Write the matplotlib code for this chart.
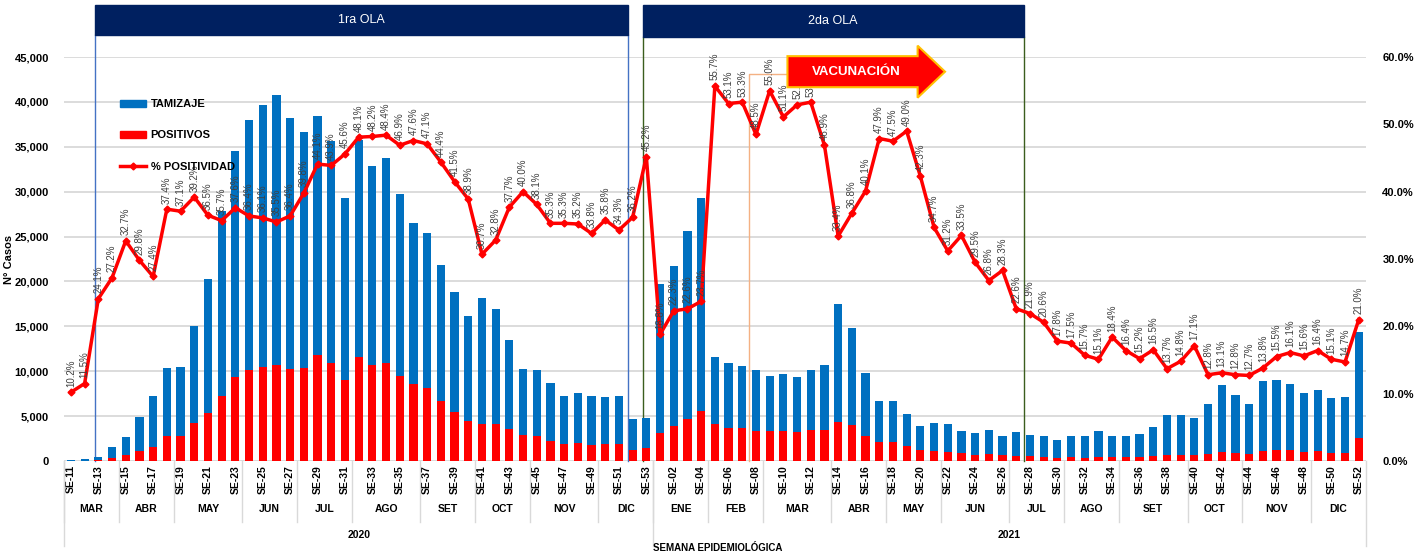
import numpy as np
import matplotlib
matplotlib.use("Agg")
import matplotlib.pyplot as plt
import matplotlib.transforms as mtransforms
from matplotlib.patches import Patch, Rectangle, FancyArrow
from matplotlib.lines import Line2D
from matplotlib.ticker import FuncFormatter

plt.rcParams['font.family'] = ['Liberation Sans', 'DejaVu Sans']

# categories
weeks_2020 = ['SE-%02d' % w for w in range(11, 54)]
weeks_2021 = ['SE-%02d' % w for w in range(1, 53)]
months_2020 = ['MAR', 'ABR', 'MAY', 'JUN', 'JUL', 'AGO', 'SET', 'OCT', 'NOV', 'DIC']
month_weeks_2020 = [4, 4, 5, 4, 4, 5, 4, 4, 5, 4]
months_2021 = ['ENE', 'FEB', 'MAR', 'ABR', 'MAY', 'JUN', 'JUL', 'AGO', 'SET', 'OCT', 'NOV', 'DIC']
month_weeks_2021 = [4, 4, 5, 4, 4, 5, 4, 4, 5, 4, 5, 4]
years = ['2020', '2021']

# series
positivos = [14, 23, 88, 340, 650, 1100, 1560, 2800, 2830, 4230,
             5390, 7250, 9370, 10120, 10490, 10670, 10190, 10410, 11750, 10860,
             9070, 11530, 10670, 10930, 9480, 8520, 8140, 6660, 5500, 4500,
             4170, 4090, 3610, 2900, 2780, 2230, 1860, 1980, 1820, 1860,
             1840, 1250, 1490,
             3120, 3900, 4690, 5580, 4090, 3720, 3650, 3300, 3330, 3280,
             3220, 3500, 3400, 4370, 3980, 2810, 2160, 2140, 1710, 1170,
             1100, 970, 830, 710, 720, 610, 590, 530, 480, 350,
             410, 370, 430, 440, 400, 400, 530, 620, 670, 700,
             720, 970, 830, 720, 1080, 1220, 1180, 1030, 1110, 920,
             920, 2500]
tamizaje = [136, 197, 362, 1220, 2030, 3810, 5690, 7500, 7660, 10790,
            14910, 20610, 25140, 27850, 29190, 30130, 28040, 26260, 26670, 24840,
            20200, 24250, 22240, 22870, 20270, 18030, 17220, 15130, 13280, 11640,
            13940, 12870, 9890, 7290, 7300, 6400, 5350, 5640, 5390, 5210,
            5370, 3440, 3310,
            16550, 17860, 20970, 23720, 7440, 7140, 6910, 6780, 6080, 6430,
            6080, 6580, 7270, 13070, 10820, 7010, 4500, 4520, 3480, 2750,
            3180, 3120, 2480, 2410, 2700, 2140, 2610, 2410, 2350, 1960,
            2340, 2380, 2880, 2390, 2430, 2610, 3230, 4550, 4500, 4100,
            5640, 7440, 6500, 5640, 7850, 7850, 7340, 6590, 6740, 6110,
            6220, 11890]
positividad = [10.2, 11.5, 24.1, 27.2, 32.7, 29.8, 27.4, 37.4, 37.1, 39.2,
               36.5, 35.7, 37.6, 36.4, 36.1, 35.5, 36.4, 39.8, 44.1, 43.9,
               45.6, 48.1, 48.2, 48.4, 46.9, 47.6, 47.1, 44.4, 41.5, 38.9,
               30.7, 32.8, 37.7, 40.0, 38.1, 35.3, 35.3, 35.2, 33.8, 35.8,
               34.3, 36.2, 45.2,
               18.8, 22.3, 22.6, 23.7, 55.7, 53.1, 53.3, 48.5, 55.0, 51.1,
               52.9, 53.3, 46.9, 33.4, 36.8, 40.1, 47.9, 47.5, 49.0, 42.3,
               34.7, 31.2, 33.5, 29.5, 26.8, 28.3, 22.6, 21.9, 20.6, 17.8,
               17.5, 15.7, 15.1, 18.4, 16.4, 15.2, 16.5, 13.7, 14.8, 17.1,
               12.8, 13.1, 12.8, 12.7, 13.8, 15.5, 16.1, 15.6, 16.4, 15.1,
               14.7, 21.0]

BLUE = '#0070C0'
RED = '#FF0000'
NAVY = '#002060'
GRID = '#D9D9D9'

weeks = weeks_2020 + weeks_2021
x = np.arange(len(weeks))

fig = plt.figure(figsize=(14.24, 5.54), dpi=100)
ax = fig.add_axes([0.045, 0.168, 0.914, 0.729])

ax.bar(x, positivos, width=0.6, color=RED, zorder=2)
ax.bar(x, tamizaje, bottom=positivos, width=0.6, color=BLUE, zorder=2)
ax.set_xlim(-0.5, len(weeks) - 0.5)
ax.set_ylim(0, 45000)
ax.set_yticks(range(0, 45001, 5000))
ax.yaxis.set_major_formatter(FuncFormatter(lambda v, p: f'{v:,.0f}'))
ax.grid(axis='y', color=GRID, lw=1.3, zorder=0)
ax.set_axisbelow(True)
for s in ax.spines.values():
    s.set_visible(False)
ax.tick_params(axis='both', length=0)
ax.tick_params(axis='y', labelsize=8, pad=11)
for t in ax.get_yticklabels():
    t.set_fontweight('bold')
ax.set_ylabel('N° Casos', fontsize=8, fontweight='bold', labelpad=0)

ax.set_xticks(x[::2])
ax.set_xticklabels(weeks[::2], rotation=90, fontsize=7.5, fontweight='bold')
ax.tick_params(axis='x', pad=3)

# multi-level category axis
trans = mtransforms.blended_transform_factory(ax.transData, ax.transAxes)
start = -0.5
for names, counts in [(months_2020, month_weeks_2020), (months_2021, month_weeks_2021)]:
    for name, n in zip(names, counts):
        ax.text(start + n / 2, -0.119, name, transform=trans, ha='center', va='center',
                fontsize=7.5, fontweight='bold')
        ax.plot([start, start], [0, -0.151], transform=trans, color=GRID, lw=1, clip_on=False)
        start += n
year_edges = [-0.5, len(weeks_2020) - 0.5, len(weeks) - 0.5]
for i, yr in enumerate(years):
    ax.text((year_edges[i] + year_edges[i + 1]) / 2, -0.183, yr, transform=trans,
            ha='center', va='center', fontsize=7.5, fontweight='bold')
for e in year_edges:
    ax.plot([e, e], [0, -0.21], transform=trans, color=GRID, lw=1, clip_on=False)
fig.text(718 / 1424, 0.011, 'SEMANA EPIDEMIOLÓGICA', ha='center', va='center',
         fontsize=7, fontweight='bold')

# waves
waves = [('1ra OLA', 1.77, 40.65, 1.054, '#4472C4'), ('2da OLA', 41.74, 69.54, 1.050, '#3B5E1E')]
for label, x0, x1, yb, lc in waves:
    ax.add_patch(Rectangle((x0, yb), x1 - x0, 1.129 - yb, transform=trans,
                           color=NAVY, clip_on=False, zorder=5))
    ax.text((x0 + x1) / 2, (yb + 1.129) / 2, label, transform=trans, ha='center',
            va='center', color='white', fontsize=9, zorder=6)
    for xv in (x0, x1):
        ax.plot([xv, xv], [0, yb], transform=trans, color=lc, lw=1, clip_on=False, zorder=1)

ax.plot([49.5, 49.5, 52.3], [0, 0.958, 0.958], transform=trans, color='#F4B183',
        lw=1, clip_on=False, zorder=1)

# positivity line
ax2 = ax.twinx()
pct = np.array(positividad) / 100
ax2.plot(x, pct, color=RED, lw=2.5, marker='D', ms=3.5, zorder=3)
ax2.set_ylim(0, 0.6)
ax2.set_yticks(np.arange(0, 0.61, 0.1))
ax2.yaxis.set_major_formatter(FuncFormatter(lambda v, p: f'{v * 100:.1f}%'))
ax2.tick_params(axis='y', length=0, labelsize=8, pad=12)
for t in ax2.get_yticklabels():
    t.set_fontweight('bold')
for s in ax2.spines.values():
    s.set_visible(False)
for xi, p in zip(x, positividad):
    ax2.annotate(f'{p:.1f}%', (xi, p / 100), xytext=(0, 4), textcoords='offset points',
                 rotation=90, ha='center', va='bottom', fontsize=7, color='#404040')

# vaccination arrow drawn over the labels
arrow = FancyArrow(52.3, 43370, 11.5, 0, width=3460, head_width=5800, head_length=2.0,
                   length_includes_head=True, fc=RED, ec='#FFC000', lw=1.5,
                   transform=ax.transData, clip_on=False, zorder=6)
ax2.add_patch(arrow)
ax2.text(57.3, 43370, 'VACUNACIÓN', transform=ax.transData, ha='center', va='center',
         color='white', fontsize=9.5, fontweight='bold', zorder=7)

handles = [Patch(color=BLUE), Patch(color=RED),
           Line2D([], [], color=RED, lw=2.5, marker='D', ms=3.5)]
leg = ax2.legend(handles, ['TAMIZAJE', 'POSITIVOS', '% POSITIVIDAD'], loc='upper left',
                 bbox_to_anchor=(0.035, 0.92), frameon=False, handlelength=2.4,
                 handleheight=0.7, labelspacing=1.9, handletextpad=0.4,
                 prop={'size': 8, 'weight': 'bold'})

plt.savefig('out.png', dpi=100)
plt.close()
